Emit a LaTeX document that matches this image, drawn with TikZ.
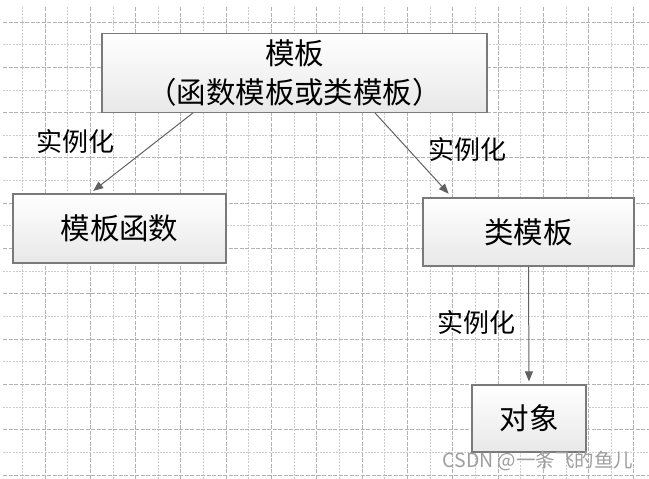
\documentclass[tikz,border=0pt]{standalone}
\usepackage{fontspec}
\usepackage{tikz}
\usetikzlibrary{arrows.meta}
\newfontfamily\cjk{Noto Sans CJK SC}

\begin{document}
\begin{tikzpicture}[x=1pt,y=-1pt,
  box/.style={draw=black!52,line width=1.2pt,top color=white,bottom color=black!9,
    inner sep=0pt,align=center,font=\cjk\fontsize{29.5}{39}\selectfont},
  lbl/.style={inner sep=0pt,font=\cjk\fontsize{26}{30}\selectfont},
  arr/.style={draw=black!62,line width=1pt,-{Triangle[length=10pt,width=8pt]}},
  minorline/.style={draw=black!20,line width=0.8pt,dash pattern=on 2pt off 1.2pt},
  majorline/.style={draw=black!30,line width=0.9pt,dash pattern=on 4pt off 1.5pt}]

\useasboundingbox (0,0) rectangle (649,479);

\foreach \k in {0,...,27} {
  \pgfmathsetmacro{\gx}{22.3+22.65*\k}
  \ifodd\k
    \draw[majorline] (\gx,7) -- (\gx,479);
  \else
    \draw[minorline] (\gx,7) -- (\gx,479);
  \fi
}

\foreach \k in {0,...,20} {
  \pgfmathsetmacro{\gy}{22+22.65*\k}
  \ifodd\k
    \draw[minorline] (3,\gy) -- (649,\gy);
  \else
    \draw[majorline] (3,\gy) -- (649,\gy);
  \fi
}

\node[box,minimum width=385pt,minimum height=79pt] (tpl) at (294.5,72.8)
{模板\\（函数模板或类模板）};

\node[box,minimum width=213pt,minimum height=69pt] (fn) at (119.5,228.5) {模板函数};

\node[box,minimum width=211pt,minimum height=68pt] (cls) at (528.5,232) {类模板};

\node[box,minimum width=114pt,minimum height=67pt] (obj) at (529,418.5) {对象};

\draw[arr,shorten >=4pt] ([xshift=-101.5pt]tpl.south) -- ([xshift=-29.5pt]fn.north);

\draw[arr,shorten >=5pt] ([xshift=80.5pt]tpl.south) -- ([xshift=-76.5pt]cls.north);

\draw[arr,shorten >=3pt] (cls.south) -- (obj.north);

\node[lbl] (lblfn) at (76,141.5) {实例化};

\node[lbl] (lblcls) at (467.5,150) {实例化};

\node[lbl] (lblobj) at (476,323) {实例化};

\node[inner sep=0pt,text=black!38,font=\cjk\fontsize{19.5}{22}\selectfont] (mark) at (538,461)
{CSDN @一条飞的鱼儿};

\end{tikzpicture}
\end{document}
